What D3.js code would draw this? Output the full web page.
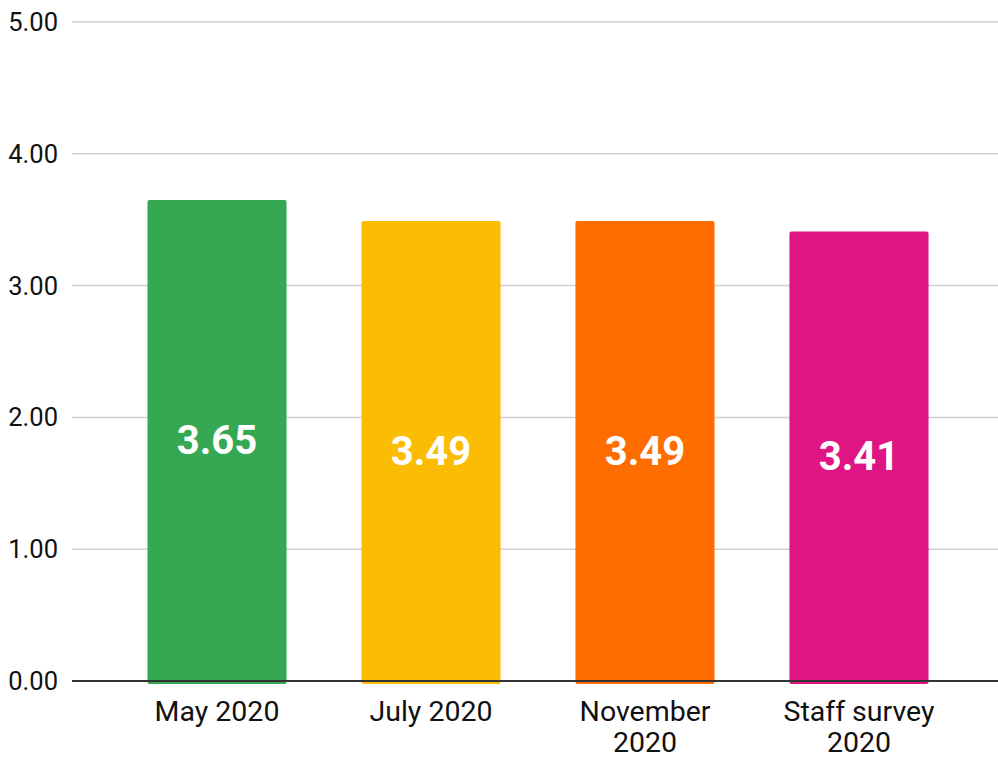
<!DOCTYPE html>
<html><head><meta charset="utf-8">
<script src="https://cdn.jsdelivr.net/npm/d3@7"></script>
<style>body{margin:0;background:#fff}svg{display:block;font-family:Roboto,sans-serif}</style>
</head><body><svg id="c" width="998" height="758"></svg>
<script>
const categories = [["May 2020"], ["July 2020"], ["November", "2020"], ["Staff survey", "2020"]];
const values = [3.65, 3.49, 3.49, 3.41];
const colors = ["#34A853", "#FBBC04", "#FF6D01", "#DF1584"];
const yTicks = [0, 1, 2, 3, 4, 5];

const svg = d3.select("#c");
const x = d3.scaleBand().domain(d3.range(values.length)).range([110, 966]).paddingInner(0.35).paddingOuter(0.175);
const y = d3.scaleLinear().domain([0, 5]).range([681, 22]);

// gridlines
svg.append("g").selectAll("line").data(yTicks.filter(d => d > 0)).join("line")
  .attr("x1", 72).attr("x2", 998).attr("y1", d => y(d)).attr("y2", d => y(d))
  .attr("stroke", "#cfcfcf").attr("stroke-width", 1.5);

// y labels
svg.append("g").selectAll("text").data(yTicks).join("text")
  .attr("x", 58).attr("y", d => y(d)).attr("text-anchor", "end").attr("dominant-baseline", "central")
  .attr("font-size", 25.5).attr("fill", "#111").text(d => d.toFixed(2));

// bars
svg.append("g").selectAll("rect").data(values).join("rect")
  .attr("x", (d, i) => x(i)).attr("width", x.bandwidth())
  .attr("y", d => y(d)).attr("height", d => y(0) - y(d) + 3)
  .attr("rx", 2).attr("fill", (d, i) => colors[i]);

// baseline
svg.append("line").attr("x1", 72).attr("x2", 998).attr("y1", y(0)).attr("y2", y(0))
  .attr("stroke", "#333").attr("stroke-width", 2.2);

// value labels
svg.append("g").selectAll("text").data(values).join("text")
  .attr("x", (d, i) => x(i) + x.bandwidth() / 2).attr("y", d => (y(d) + y(0)) / 2)
  .attr("text-anchor", "middle").attr("dominant-baseline", "central")
  .attr("font-size", 40).attr("font-weight", "bold").attr("fill", "#fff")
  .text(d => d.toFixed(2));

// x labels
const xl = svg.append("g").selectAll("text").data(categories).join("text")
  .attr("text-anchor", "middle").attr("font-size", 28.5).attr("fill", "#111");
xl.each(function (lines, i) {
  const t = d3.select(this);
  lines.forEach((s, j) => t.append("tspan").attr("x", x(i) + x.bandwidth() / 2).attr("y", 721 + j * 31).text(s));
});
</script></body></html>
